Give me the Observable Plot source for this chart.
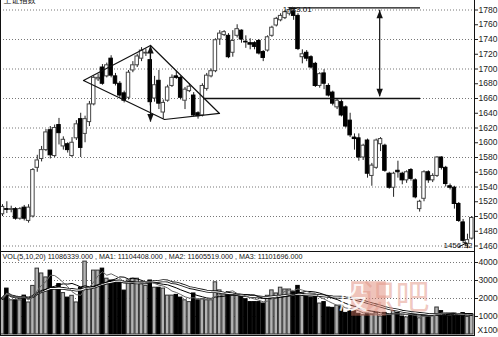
<!DOCTYPE html>
<html>
<head>
<meta charset="utf-8">
<script src="https://cdn.jsdelivr.net/npm/d3@7"></script>
<script src="https://cdn.jsdelivr.net/npm/@observablehq/plot@0.6"></script>
<style>
  html, body { margin: 0; padding: 0; background: #fff; overflow: hidden; }
  #chart svg { display: block; margin-top: -1px; }
</style>
</head>
<body>
<div id="chart"></div>
<script>
// Daily candles of the 上证指数 (Shanghai Composite), one entry per session
const opens = [1503,1510,1509,1510,1497,1512,1494,1500,1566,1578,
  1590,1617,1582,1624,1595,1598,1582,1606,1632,1612,
  1628,1652,1686,1702,1690,1714,1690,1680,1667,1661,
  1698,1705,1714,1721,1712,1660,1684,1641,1657,1677,
  1690,1688,1657,1670,1664,1640,1637,1673,1690,1697,
  1740,1746,1745,1722,1745,1752,1737,1735,1735,1738,
  1723,1725,1745,1759,1766,1769,1775,1778,1772,1716,
  1722,1716,1707,1677,1694,1677,1668,1648,1655,1648,
  1630,1607,1606,1580,1603,1555,1566,1598,1596,1558,
  1539,1562,1558,1549,1563,1549,1510,1524,1560,1549,
  1555,1580,1566,1541,1539,1517,1492,1463,1470];
const highs = [1516,1520,1514,1512,1512,1515,1516,1565,1583,1595,
  1618,1622,1624,1633,1608,1600,1607,1630,1640,1636,
  1656,1690,1693,1706,1708,1718,1694,1683,1670,1698,
  1710,1720,1729,1727,1728,1690,1698,1658,1678,1692,
  1697,1690,1675,1680,1668,1642,1680,1694,1700,1741,
  1752,1752,1748,1752,1760,1753,1745,1741,1737,1740,
  1725,1745,1758,1770,1775,1779,1783.01,1780,1775,1726,
  1725,1718,1709,1695,1699,1680,1670,1660,1658,1650,
  1640,1612,1612,1598,1605,1572,1605,1607,1598,1560,
  1560,1575,1560,1562,1565,1551,1522,1562,1562,1558,
  1581,1581,1568,1544,1541,1519,1496,1476,1500];
const lows = [1500,1504,1505,1495,1495,1494,1491,1498,1560,1574,
  1588,1578,1580,1597,1590,1586,1580,1603,1580,1600,
  1622,1650,1683,1678,1688,1688,1677,1660,1654,1658,
  1695,1702,1710,1717,1650,1655,1645,1632,1655,1675,
  1686,1658,1645,1668,1635,1632,1635,1670,1688,1695,
  1732,1744,1714,1716,1742,1735,1728,1726,1726,1719,
  1710,1723,1743,1757,1764,1767,1772,1766,1725,1707,
  1710,1700,1675,1674,1672,1662,1650,1645,1635,1620,
  1607,1590,1575,1576,1552,1541,1564,1588,1560,1537,
  1526,1552,1543,1545,1548,1524,1506,1520,1545,1546,
  1553,1563,1540,1536,1510,1492,1463,1456.32,1468];
const closes = [1513,1509,1510,1497,1510,1497,1512,1563,1576,1590,
  1614,1583,1620,1613,1604,1590,1600,1625,1593,1632,
  1652,1688,1688,1680,1705,1691,1680,1664,1657,1695,
  1705,1717,1725,1722,1655,1678,1653,1654,1675,1688,
  1688,1661,1672,1676,1637,1636,1677,1691,1697,1739,
  1748,1750,1716,1738,1754,1740,1736,1733,1730,1721,
  1715,1743,1756,1768,1772,1777,1780,1772,1727,1720,
  1714,1702,1677,1693,1680,1664,1653,1657,1637,1622,
  1610,1605,1580,1596,1558,1569,1603,1605,1562,1539,
  1558,1560,1549,1560,1551,1526,1520,1560,1549,1555,
  1580,1566,1544,1539,1517,1494,1467,1468,1498];
// Traded volume, in thousands of shares
const volumes = [20000,25500,19000,19000,19000,21600,17800,27000,36600,33900,
  31700,35500,26000,28000,23000,20500,21500,17800,26000,40500,
  26000,35500,35500,36600,31000,30000,29500,29500,24400,30000,
  31000,31000,28000,27000,30000,26000,26000,25500,21600,21600,
  22000,20500,19000,18000,22800,19000,19600,19000,19000,29000,
  24500,22800,23500,21500,21500,21500,19600,18000,18000,18000,
  17200,21500,24500,22800,26000,25000,25000,23500,27000,22800,
  21500,20500,21500,17200,18000,15000,14800,16000,16000,12000,
  13000,13000,11500,10700,11500,11000,12000,10000,12000,10500,
  13000,12000,10000,9500,11000,10500,9000,10500,9978.73,11000,
  15000,13000,11500,10033.15,11500,11300,11900,9735.701,11086.339];

const priceTicks = [1460,1480,1500,1520,1540,1560,1580,1600,1620,1640,1660,1680,1700,1720,1740,1760,1780];
const priceGrid = [1460,1500,1540,1580,1620,1660,1700,1740,1780];
const volTicks = [10000,20000,30000,40000];
const maPeriods = [5, 10, 20];

// Hand-drawn analysis: the diamond top, the two horizontal levels and the measured moves
const diamondIdx   = [18.64, 34.06, 49.94, 37.28, 18.64];
const diamondPrice = [1684.4, 1731.9, 1639.7, 1631.5, 1684.4];
const levelPrice = [1783.01, 1660];
const levelFrom  = [66, 46.3];
const levelTo    = [96.2, 96.2];
const spanIdx    = [34.06, 86.8];
const spanTop    = [1732, 1779.5];
const spanBottom = [1628, 1662.5];
const noteText  = ["1783.01", "1456.32"];
const notePrice = [1781, 1460.5];
const noteIdx   = [67.8, 104.8];
const noteAnchor = ["start", "end"];
const pointerFrom = [[67.6, 1782], [105.0, 1459]];
const pointerTo   = [[66.3, 1782], [106.8, 1464]];

const FONT = "'Liberation Sans', Arial, Helvetica, sans-serif";
const CJK = "'Noto Sans CJK SC', sans-serif";

const candles = opens.map((o, i) => ({
  i, o, h: highs[i], l: lows[i], c: closes[i], v: volumes[i], up: closes[i] >= o
}));
const diamond = diamondIdx.map((i, k) => ({i, p: diamondPrice[k]}));
const levels = levelPrice.map((p, k) => ({p, from: levelFrom[k], to: levelTo[k]}));
const spans = spanIdx.map((i, k) => ({i, top: spanTop[k], bottom: spanBottom[k]}));
const notes = noteText.map((label, k) => ({
  label, p: notePrice[k], i: noteIdx[k], anchor: noteAnchor[k],
  x1: pointerFrom[k][0], y1: pointerFrom[k][1], x2: pointerTo[k][0], y2: pointerTo[k][1]
}));

// Filled arrowheads whose tip sits on the anchor point
const headUp = {draw(ctx) { ctx.moveTo(0, 0); ctx.lineTo(3.2, 8); ctx.lineTo(-3.2, 8); ctx.closePath(); }};
const headDown = {draw(ctx) { ctx.moveTo(0, 0); ctx.lineTo(3.2, -8); ctx.lineTo(-3.2, -8); ctx.closePath(); }};

const n = candles.length;
const xScale = {domain: [0, n - 1], range: [2, 471.3], axis: null};
const half = 0.4;

const main = Plot.plot({
  width: 498, height: 253,
  marginTop: 0, marginBottom: 1, marginLeft: 0, marginRight: 24,
  style: {fontFamily: FONT, fontSize: "8.5px", color: "#222", background: "#fff"},
  x: xScale,
  y: {domain: [1460, 1780], range: [246.5, 10.5], axis: "right", ticks: priceTicks,
      tickFormat: "d", tickSize: 3, tickPadding: 1, label: null},
  marks: [
    Plot.ruleY(priceGrid, {stroke: "#777", strokeDasharray: "1,2"}),
    Plot.ruleX(candles, {x: "i", y1: "l", y2: "h", stroke: "#222"}),
    Plot.rect(candles, {
      x1: d => d.i - half, x2: d => d.i + half, y1: "o", y2: "c",
      fill: d => d.up ? "#fff" : "#000", stroke: d => d.up ? "#444" : "#000"
    }),
    Plot.line(diamond, {x: "i", y: "p", stroke: "#111", strokeWidth: 1.2}),
    Plot.ruleY(levels, {y: "p", x1: "from", x2: "to", stroke: "#111", strokeWidth: 1.3}),
    Plot.ruleX(spans, {x: "i", y1: "top", y2: "bottom", stroke: "#111", strokeWidth: 1.2}),
    Plot.dot(spans, {x: "i", y: "top", symbol: headUp, fill: "#111", stroke: "none"}),
    Plot.dot(spans, {x: "i", y: "bottom", symbol: headDown, fill: "#111", stroke: "none"}),
    Plot.arrow(notes, {x1: "x1", y1: "y1", x2: "x2", y2: "y2", stroke: "#111",
      headLength: 4, headAngle: 70, strokeWidth: 1}),
    Plot.text(notes, {x: "i", y: "p", text: "label", textAnchor: "anchor",
      lineAnchor: "middle", fontSize: 8, fill: "#111"}),
    Plot.text(["上证指数"], {frameAnchor: "top-left", dx: 3, dy: -2, lineAnchor: "top",
      fontSize: 8, fontFamily: CJK, fill: "#222"}),
    Plot.frame({stroke: "#111"})
  ]
});

const fmt = d3.format(".3f");
const lastMeans = maPeriods.map(k => d3.mean(volumes.slice(-k)) * 1000);
const volTitle = `VOL(${maPeriods.join(",")}) ${fmt(volumes[n - 1] * 1000)} , MA1: ${fmt(lastMeans[0])} , MA2: ${fmt(lastMeans[1])} , MA3: ${fmt(lastMeans[2])}`;

const maLine = (k, opts) => Plot.lineY(candles, Plot.windowY({k, anchor: "end"}, {x: "i", y: "v", ...opts}));

const vol = Plot.plot({
  width: 498, height: 85,
  marginTop: 0, marginBottom: 1, marginLeft: 0, marginRight: 24,
  style: {fontFamily: FONT, fontSize: "8.5px", color: "#222", background: "#fff"},
  x: xScale,
  y: {domain: [0, 40000], range: [83, 11], axis: "right", ticks: volTicks,
      tickFormat: "d", tickSize: 3, tickPadding: 1, label: null},
  marks: [
    Plot.ruleY(volTicks, {stroke: "#777", strokeDasharray: "1,2"}),
    Plot.rect(candles, {
      x1: d => d.i - half, x2: d => d.i + half, y1: 0, y2: "v",
      fill: d => d.up ? "#b4b4b4" : "#000", stroke: d => d.up ? "#333" : "#000"
    }),
    maLine(maPeriods[2], {stroke: "#111", strokeWidth: 2.8}),
    maLine(maPeriods[2], {stroke: "#fff", strokeWidth: 1.1}),
    maLine(maPeriods[1], {stroke: "#000", strokeWidth: 1}),
    maLine(maPeriods[0], {stroke: "#666", strokeWidth: 1}),
    Plot.dot([0], {frameAnchor: "right", dx: -106, dy: 5, symbol: "square", r: 19.5,
      fill: "#dc7a66", fillOpacity: 0.45, stroke: "none"}),
    Plot.text(["股"], {frameAnchor: "right", dx: -106, dy: 5, fontSize: 30,
      fontFamily: CJK, fill: "#fff", fillOpacity: 0.85}),
    Plot.text(["识吧"], {frameAnchor: "right", dx: -45, dy: 5, fontSize: 34,
      fontFamily: CJK, fill: "#e39a8c", fillOpacity: 0.55}),
    Plot.text([volTitle], {frameAnchor: "top-left", dx: 2, dy: 5.5, lineAnchor: "middle",
      textAnchor: "start", fontSize: 7.2, fill: "#111"}),
    Plot.text(["X1000"], {frameAnchor: "bottom-right", dx: 3, dy: -5, textAnchor: "start",
      lineAnchor: "middle", fill: "#222"}),
    Plot.frame({stroke: "#111"})
  ]
});

const root = document.getElementById("chart");
root.append(main, vol);
</script>
</body>
</html>
